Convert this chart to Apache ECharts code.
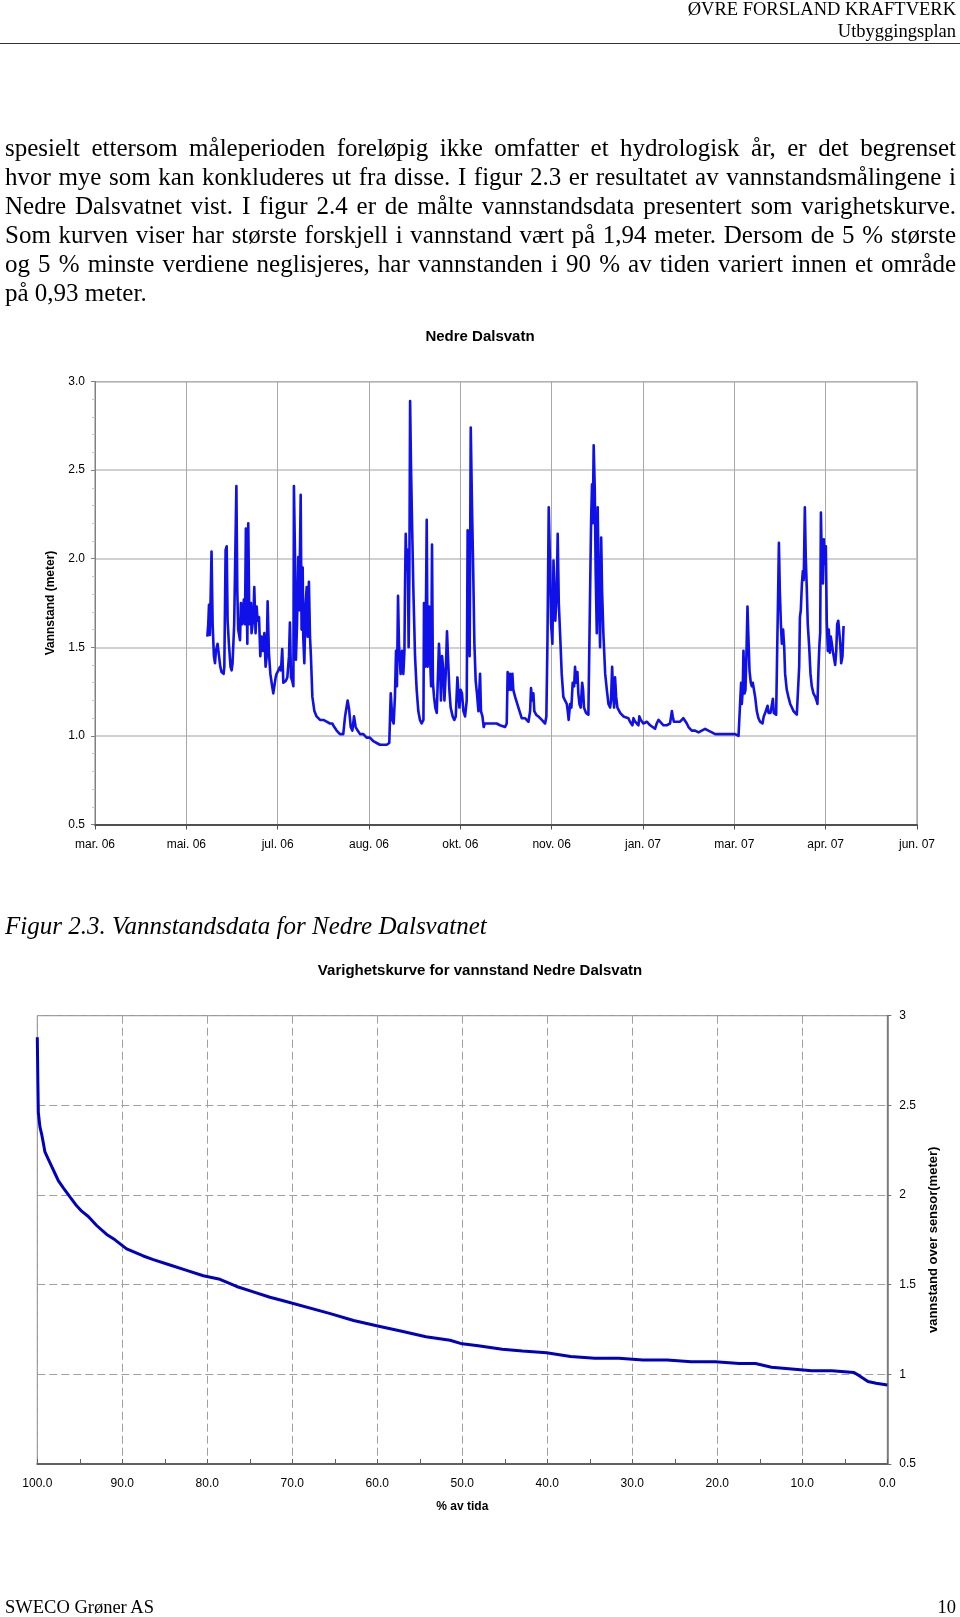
<!DOCTYPE html>
<html>
<head>
<meta charset="utf-8">
<script src="https://cdn.jsdelivr.net/npm/echarts@6/dist/echarts.min.js"></script>
<style>
  html, body { margin:0; padding:0; background:#fff; }
  #page { position:relative; width:960px; height:1617px; overflow:hidden; background:#fff; }
  #chart { position:absolute; left:0; top:0; width:960px; height:1617px; }
  .serif { position:absolute; font-family:'Liberation Serif','Times New Roman',serif; color:#000; }
  .hdr { right:4px; font-size:18.5px; line-height:20px; text-align:right; white-space:nowrap; }
  .rule { position:absolute; left:0; top:42.5px; width:960px; height:1.6px; background:#333; }
  .line { left:5px; width:951px; font-size:25px; line-height:29px; text-align:justify; text-align-last:justify; }
  .last { text-align:left; text-align-last:left; }
  .caption { left:5px; font-size:25px; line-height:29px; font-style:italic; white-space:nowrap; }
  .foot { font-size:18.5px; line-height:20px; white-space:nowrap; }
</style>
</head>
<body>
<div id="page">
  <div id="chart"></div>
  <div class="serif hdr" style="top:-1px;">ØVRE FORSLAND KRAFTVERK</div>
  <div class="serif hdr" style="top:21px;">Utbyggingsplan</div>
  <div class="rule"></div>

  <div class="serif line" style="top:133px;">spesielt ettersom måleperioden foreløpig ikke omfatter et hydrologisk år, er det begrenset</div>
  <div class="serif line" style="top:162px;">hvor mye som kan konkluderes ut fra disse. I figur 2.3 er resultatet av vannstandsmålingene i</div>
  <div class="serif line" style="top:191px;">Nedre Dalsvatnet vist. I figur 2.4 er de målte vannstandsdata presentert som varighetskurve.</div>
  <div class="serif line" style="top:220px;">Som kurven viser har største forskjell i vannstand vært på 1,94 meter. Dersom de 5 % største</div>
  <div class="serif line" style="top:249px;">og 5 % minste verdiene neglisjeres, har vannstanden i 90 % av tiden variert innen et område</div>
  <div class="serif line last" style="top:278px;">på 0,93 meter.</div>

  <div class="serif caption" style="top:911px;">Figur 2.3. Vannstandsdata for Nedre Dalsvatnet</div>

  <div class="serif foot" style="left:5px; top:1597px;">SWECO Grøner AS</div>
  <div class="serif foot" style="right:4px; top:1597px;">10</div>
</div>
<script>
// ---- Figure 2.3: water level, Nedre Dalsvatn. x = Excel date serial (days), y = level (m)
const levelSeries = [
 [38861.5,1.56],[38862.0,1.63],[38862.4,1.74],[38862.9,1.57],[38863.8,2.04],[38864.4,1.63],[38865.1,1.45],[38865.7,1.41],[38866.2,1.48],[38867.1,1.52],
 [38867.9,1.45],[38868.6,1.39],[38869.3,1.36],[38870.4,1.35],[38870.8,1.39],[38871.5,2.05],[38872.1,2.07],[38872.6,1.65],[38873.3,1.52],[38874.2,1.39],
 [38874.8,1.37],[38875.3,1.41],[38876.2,1.63],[38877.4,2.41],[38877.9,1.82],[38878.4,1.60],[38879.4,1.54],[38879.9,1.75],[38880.6,1.63],[38881.5,1.77],
 [38882.1,1.63],[38882.6,2.17],[38883.4,1.52],[38883.9,2.20],[38884.5,1.63],[38885.4,1.75],[38885.7,1.58],[38886.7,1.67],[38887.2,1.84],[38887.9,1.58],
 [38888.5,1.73],[38889.0,1.65],[38889.8,1.67],[38890.5,1.45],[38891.2,1.56],[38892.0,1.48],[38892.7,1.58],[38893.4,1.39],[38894.0,1.45],[38894.5,1.76],
 [38895.2,1.47],[38896.0,1.35],[38896.7,1.30],[38897.6,1.24],[38898.2,1.24],[38898.9,1.33],[38899.4,1.35],[38900.4,1.37],[38901.3,1.39],[38901.8,1.37],
 [38902.5,1.49],[38903.1,1.30],[38903.6,1.30],[38904.4,1.31],[38905.3,1.33],[38906.2,1.45],[38906.7,1.64],[38907.3,1.33],[38908.0,1.31],[38908.6,1.28],
 [38908.9,2.41],[38909.5,2.01],[38910.0,1.43],[38910.6,1.63],[38911.3,2.01],[38911.8,1.71],[38912.6,2.36],[38913.1,1.60],[38913.7,1.95],[38914.0,1.56],
 [38914.6,1.41],[38915.3,1.75],[38915.9,1.84],[38916.4,1.56],[38917.1,1.87],[38917.7,1.56],[38918.2,1.45],[38919.0,1.22],[38920.1,1.14],[38921.3,1.11],
 [38923.2,1.09],[38925.0,1.09],[38926.8,1.08],[38928.6,1.07],[38929.9,1.07],[38931.0,1.05],[38932.3,1.03],[38934.1,1.01],[38935.9,1.01],[38936.9,1.11],
 [38938.3,1.20],[38939.1,1.15],[38940.0,1.05],[38940.9,1.03],[38941.8,1.11],[38942.7,1.05],[38943.8,1.03],[38945.1,1.01],[38946.9,1.01],[38948.7,0.99],
 [38950.5,0.99],[38952.4,0.97],[38954.2,0.96],[38956.0,0.95],[38957.9,0.95],[38959.7,0.95],[38961.1,0.96],[38961.9,1.24],[38962.8,1.09],[38963.5,1.07],
 [38964.2,1.22],[38964.8,1.48],[38965.3,1.28],[38965.9,1.79],[38966.4,1.52],[38967.3,1.35],[38968.1,1.48],[38968.8,1.35],[38969.4,1.48],[38969.7,1.82],
 [38970.1,2.14],[38970.6,1.94],[38971.2,2.05],[38971.7,1.50],[38972.1,1.90],[38972.5,2.89],[38973.0,2.52],[38973.5,2.24],[38974.3,1.82],[38975.2,1.45],
 [38976.1,1.26],[38977.0,1.14],[38977.9,1.09],[38978.8,1.07],[38979.8,1.09],[38980.1,1.75],[38980.7,1.39],[38981.2,1.75],[38981.6,2.22],[38982.1,1.39],
 [38982.9,1.73],[38983.4,1.45],[38984.0,1.28],[38984.5,2.08],[38985.0,1.30],[38985.6,1.22],[38986.3,1.16],[38987.1,1.13],[38987.8,1.12],[38988.3,1.52],
 [38988.9,1.39],[38989.4,1.20],[38990.0,1.45],[38990.7,1.37],[38991.3,1.20],[38992.0,1.35],[38992.7,1.59],[38993.4,1.41],[38994.0,1.26],[38994.7,1.16],
 [38995.8,1.11],[38996.7,1.09],[38997.5,1.11],[38998.4,1.33],[38998.9,1.33],[38999.5,1.16],[39000.2,1.26],[39000.9,1.24],[39001.7,1.14],[39002.6,1.11],
 [39003.5,1.20],[39004.0,2.16],[39004.6,1.82],[39005.1,1.45],[39005.7,2.74],[39006.4,2.29],[39007.1,1.90],[39007.7,1.52],[39008.4,1.31],[39009.1,1.24],
 [39009.9,1.14],[39010.8,1.35],[39011.3,1.14],[39012.1,1.11],[39012.8,1.05],[39013.4,1.07],[39014.4,1.07],[39016.3,1.07],[39018.1,1.07],[39019.9,1.07],
 [39021.7,1.06],[39024.5,1.05],[39025.4,1.07],[39025.9,1.36],[39026.5,1.26],[39027.2,1.35],[39027.8,1.26],[39028.5,1.35],[39029.0,1.26],[39030.0,1.22],
 [39030.9,1.22],[39031.8,1.16],[39032.7,1.13],[39033.6,1.10],[39034.5,1.09],[39035.4,1.10],[39036.3,1.09],[39037.3,1.08],[39038.2,1.14],[39038.7,1.27],
 [39039.3,1.20],[39040.0,1.24],[39040.5,1.14],[39041.5,1.12],[39042.7,1.11],[39044.6,1.09],[39045.5,1.08],[39046.4,1.07],[39047.1,1.11],[39047.7,1.54],
 [39048.4,2.29],[39049.1,1.97],[39049.7,1.63],[39050.4,1.52],[39051.0,1.99],[39051.5,1.84],[39052.0,1.65],[39052.8,1.82],[39053.3,2.14],[39053.9,1.75],
 [39054.6,1.58],[39055.5,1.35],[39056.4,1.22],[39057.3,1.20],[39058.3,1.18],[39058.8,1.14],[39059.3,1.09],[39060.1,1.18],[39060.8,1.16],[39061.5,1.30],
 [39062.3,1.28],[39062.8,1.39],[39063.4,1.30],[39064.1,1.36],[39064.6,1.24],[39065.2,1.18],[39065.9,1.16],[39066.7,1.30],[39067.2,1.26],[39067.7,1.16],
 [39068.8,1.13],[39070.1,1.12],[39071.0,1.13],[39071.6,2.22],[39072.1,2.42],[39072.5,2.20],[39073.0,2.64],[39073.6,2.39],[39074.1,1.92],[39074.7,1.58],
 [39075.2,2.29],[39075.8,1.82],[39076.5,1.50],[39077.1,2.12],[39077.6,1.82],[39078.3,1.58],[39079.3,1.35],[39080.2,1.26],[39081.1,1.18],[39082.0,1.16],
 [39082.5,1.20],[39083.1,1.39],[39083.6,1.26],[39084.2,1.16],[39084.7,1.33],[39085.3,1.22],[39086.0,1.16],[39087.5,1.13],[39089.3,1.11],[39092.0,1.10],
 [39092.9,1.08],[39094.2,1.06],[39094.8,1.10],[39095.7,1.08],[39096.6,1.09],[39097.5,1.06],[39098.0,1.11],[39098.8,1.09],[39100.2,1.07],[39101.2,1.06],
 [39102.1,1.08],[39103.0,1.07],[39103.9,1.06],[39104.8,1.05],[39106.6,1.04],[39107.5,1.07],[39108.5,1.09],[39109.4,1.08],[39111.2,1.06],[39112.1,1.05],
 [39113.0,1.06],[39113.9,1.05],[39114.8,1.07],[39115.8,1.14],[39116.3,1.11],[39116.9,1.08],[39117.6,1.07],[39118.5,1.08],[39119.4,1.09],[39120.3,1.08],
 [39121.2,1.09],[39122.1,1.10],[39123.1,1.10],[39124.0,1.07],[39124.9,1.05],[39125.8,1.04],[39126.7,1.03],[39128.5,1.03],[39130.4,1.02],[39132.2,1.03],
 [39134.0,1.04],[39135.8,1.03],[39137.7,1.02],[39139.5,1.01],[39141.3,1.01],[39142.2,1.02],[39143.1,1.01],[39145.0,1.01],[39146.8,1.01],[39148.6,1.01],
 [39150.4,1.01],[39152.3,1.00],[39153.2,1.01],[39153.7,1.30],[39154.1,1.18],[39154.6,1.26],[39155.0,1.48],[39155.6,1.24],[39156.1,1.26],[39156.6,1.45],
 [39157.2,1.73],[39157.7,1.56],[39158.3,1.37],[39159.0,1.30],[39159.6,1.28],[39160.1,1.30],[39160.7,1.30],[39161.4,1.22],[39162.3,1.14],[39163.2,1.10],
 [39164.1,1.08],[39165.4,1.07],[39166.1,1.11],[39166.9,1.13],[39167.6,1.14],[39168.2,1.17],[39168.7,1.13],[39169.2,1.14],[39169.8,1.13],[39170.5,1.12],
 [39171.1,1.21],[39171.6,1.13],[39172.3,1.12],[39172.9,1.12],[39173.4,1.45],[39174.0,1.82],[39174.4,2.09],[39174.9,1.82],[39175.5,1.63],[39176.0,1.52],
 [39176.7,1.60],[39177.3,1.50],[39177.8,1.35],[39178.7,1.26],[39179.6,1.22],[39180.6,1.18],[39181.5,1.16],[39182.4,1.14],[39183.3,1.13],[39184.2,1.12],
 [39184.9,1.11],[39185.5,1.39],[39185.9,1.67],[39186.4,1.71],[39187.0,1.86],[39187.5,1.93],[39188.0,1.88],[39188.6,2.29],[39189.1,2.01],[39189.7,1.82],
 [39190.2,1.63],[39191.0,1.50],[39191.7,1.35],[39192.4,1.28],[39193.3,1.24],[39194.3,1.22],[39195.0,1.20],[39195.5,1.18],[39196.1,1.39],[39196.6,1.52],
 [39197.0,1.58],[39197.4,2.26],[39197.9,1.97],[39198.5,1.86],[39199.0,2.11],[39199.5,1.97],[39200.1,2.07],[39200.6,1.65],[39201.2,1.48],[39201.7,1.60],
 [39202.3,1.47],[39202.8,1.56],[39203.4,1.52],[39203.9,1.48],[39204.7,1.47],[39205.2,1.40],[39205.8,1.48],[39206.3,1.63],[39206.9,1.65],[39207.4,1.66],
 [39208.0,1.52],[39208.5,1.41],[39209.2,1.45],[39209.8,1.62]
];
// date axis: Excel serials, first tick 38800 (24 Mar 2006), one tick per 50 days
const dateAxisMin = 38800, dateAxisMax = 39250, dateAxisStep = 50;
const monthNames = ['jan','feb','mar','apr','mai','jun','jul','aug','sep','okt','nov','des'];
const levelTicks = [0.5, 1.0, 1.5, 2.0, 2.5, 3.0];

// ---- Figure 2.4: duration curve, x = % of time, y = level (m)
const durationPercent = [100,99.93,99.88,99.69,99.49,99.29,99.10,98.71,98.31,97.92,97.53,96.94,96.16,95.37,94.78,94.00,93.02,91.84,90.86,89.49,
 87.53,86.35,84.39,82.43,80.47,78.51,76.55,74.59,72.63,71.06,65.63,62.79,59.95,57.12,54.28,51.44,50.02,48.13,45.30,42.93,
 40.09,37.26,34.42,31.58,28.75,25.91,23.07,20.24,17.40,15.51,13.62,11.25,8.89,6.53,3.92,3.21,2.27,1.32,0];
const durationLevel = [2.88,2.62,2.46,2.38,2.34,2.29,2.24,2.20,2.16,2.12,2.08,2.04,1.99,1.94,1.91,1.88,1.83,1.78,1.75,1.70,
 1.66,1.64,1.61,1.58,1.55,1.53,1.49,1.46,1.43,1.41,1.34,1.30,1.27,1.24,1.21,1.19,1.17,1.16,1.14,1.13,
 1.12,1.10,1.09,1.09,1.08,1.08,1.07,1.07,1.06,1.06,1.04,1.03,1.02,1.02,1.01,0.99,0.96,0.95,0.94];

const SANS = "'Liberation Sans', Arial, sans-serif";
function serialToLabel(v) {
  const d = new Date(Date.UTC(1899, 11, 30) + Math.round(v) * 86400000);
  return monthNames[d.getUTCMonth()] + '. ' + String(d.getUTCFullYear() % 100).padStart(2, '0');
}

const chart = echarts.init(document.getElementById('chart'), null, { renderer: 'canvas', width: 960, height: 1617 });
chart.setOption({
  animation: false,
  backgroundColor: 'transparent',
  title: [
    { text: 'Nedre Dalsvatn', left: 'center', top: 329, padding: 0,
      textStyle: { fontFamily: SANS, fontSize: 15, fontWeight: 'bold', color: '#000' } },
    { text: 'Varighetskurve for vannstand Nedre Dalsvatn', left: 'center', top: 963, padding: 0,
      textStyle: { fontFamily: SANS, fontSize: 15, fontWeight: 'bold', color: '#000' } }
  ],
  grid: [
    { left: 95, top: 381.5, width: 822, height: 443, show: true, borderColor: '#808080', borderWidth: 1 },
    { left: 37.3, top: 1015.7, width: 850, height: 448.3, show: true, borderColor: '#808080', borderWidth: 1 }
  ],
  xAxis: [
    { type: 'value', gridIndex: 0, min: dateAxisMin, max: dateAxisMax, interval: dateAxisStep,
      axisLine: { show: true, onZero: false, lineStyle: { color: '#505050', width: 2 } },
      axisTick: { show: true, length: 5, lineStyle: { color: '#505050' } },
      axisLabel: { margin: 14, fontFamily: SANS, fontSize: 12, color: '#000', formatter: serialToLabel },
      splitLine: { show: true, lineStyle: { color: '#a8a8a8', width: 1 } } },
    { type: 'value', gridIndex: 1, min: 0, max: 100, interval: 10, inverse: true,
      name: '% av tida', nameLocation: 'middle', nameGap: 37,
      nameTextStyle: { fontFamily: SANS, fontSize: 12, fontWeight: 'bold', color: '#000' },
      axisLine: { show: true, onZero: false, lineStyle: { color: '#606060', width: 2 } },
      axisTick: { show: true, inside: true, length: 5, lineStyle: { color: '#606060' } },
      minorTick: { show: true, splitNumber: 2, length: 5, lineStyle: { color: '#606060' } },
      axisLabel: { margin: 14, fontFamily: SANS, fontSize: 12, color: '#000', formatter: v => v.toFixed(1) },
      splitLine: { show: true, lineStyle: { color: '#a0a0a0', width: 1, type: [8, 4] } } }
  ],
  yAxis: [
    { type: 'value', gridIndex: 0, min: levelTicks[0], max: levelTicks[levelTicks.length - 1], interval: 0.5,
      name: 'Vannstand (meter)', nameLocation: 'middle', nameGap: 38, nameRotate: 90,
      nameTextStyle: { fontFamily: SANS, fontSize: 12, fontWeight: 'bold', color: '#000' },
      axisLine: { show: true, lineStyle: { color: '#808080', width: 1 } },
      axisTick: { show: true, length: 4, lineStyle: { color: '#808080' } },
      minorTick: { show: true, splitNumber: 5, length: 3, lineStyle: { color: '#c8c8c8' } },
      axisLabel: { margin: 10, fontFamily: SANS, fontSize: 12, color: '#000', formatter: v => v.toFixed(1) },
      splitLine: { show: true, lineStyle: { color: '#c0c0c0', width: 1.5 } } },
    { type: 'value', gridIndex: 1, position: 'right', min: 0.5, max: 3, interval: 0.5,
      name: 'vannstand over sensor(meter)', nameLocation: 'middle', nameGap: 35, nameRotate: 90,
      nameTextStyle: { fontFamily: SANS, fontSize: 13, fontWeight: 'bold', color: '#000' },
      axisLine: { show: true, lineStyle: { color: '#707070', width: 1.5 } },
      axisTick: { show: true, length: 4, lineStyle: { color: '#707070' } },
      axisLabel: { margin: 12, fontFamily: SANS, fontSize: 12, color: '#000', formatter: v => String(v) },
      splitLine: { show: true, lineStyle: { color: '#a0a0a0', width: 1, type: [8, 4] } } }
  ],
  series: [
    { type: 'line', xAxisIndex: 0, yAxisIndex: 0, data: levelSeries, showSymbol: false, symbol: 'none',
      lineStyle: { color: '#1010e8', width: 2.6, join: 'round' }, silent: true },
    { type: 'line', xAxisIndex: 1, yAxisIndex: 1, data: durationPercent.map((p, i) => [p, durationLevel[i]]),
      showSymbol: false, symbol: 'none', lineStyle: { color: '#0000c0', width: 3 }, silent: true }
  ]
});
</script>
</body>
</html>
